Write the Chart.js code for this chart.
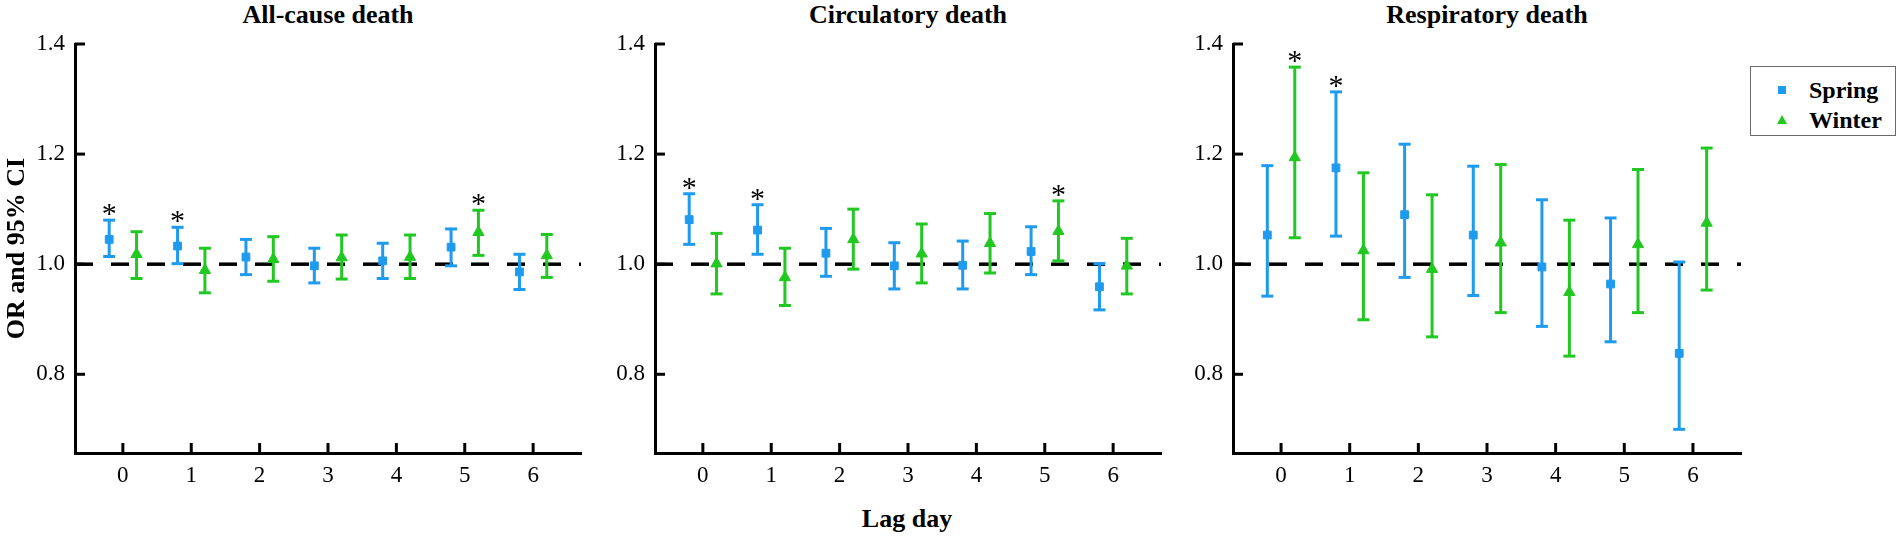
<!DOCTYPE html>
<html>
<head>
<meta charset="utf-8">
<script src="https://cdn.jsdelivr.net/npm/chart.js@4"></script>
<style>
body{margin:0;background:#fff;width:1902px;height:539px;overflow:hidden;position:relative;font-family:"Liberation Serif","Times New Roman",serif;color:#000;}
canvas{position:absolute;top:0;}
.ttl{position:absolute;top:0;width:400px;line-height:30px;font-size:26px;font-weight:bold;text-align:center;}
#legend{position:absolute;left:1750px;top:66px;width:144px;height:68px;border:1px solid #6a6a6a;}
#legend .row{position:absolute;left:0;width:144px;height:30px;line-height:30px;font-size:24px;font-weight:bold;}
#legend .txt{position:absolute;left:58px;top:0;}
#legend .sq{position:absolute;left:27px;top:11px;width:8px;height:8px;background:#1E9BEE;}
#legend .tri{position:absolute;left:26px;top:10px;width:0;height:0;border-left:5.5px solid transparent;border-right:5.5px solid transparent;border-bottom:9px solid #22C822;}
</style>
</head>
<body>

<div class="ttl" style="left:128px">All-cause death</div>
<div class="ttl" style="left:708px">Circulatory death</div>
<div class="ttl" style="left:1287px">Respiratory death</div>
<div class="ttl" style="left:707px;top:504px">Lag day</div>

<div id="legend">
  <div class="row" style="top:8px"><div class="sq"></div><span class="txt">Spring</span></div>
  <div class="row" style="top:38px"><div class="tri"></div><span class="txt">Winter</span></div>
</div>

<canvas id="c1" width="600" height="539" style="left:0px"></canvas>
<canvas id="c2" width="600" height="539" style="left:580px"></canvas>
<canvas id="c3" width="600" height="539" style="left:1158px"></canvas>

<script>
const lags = [0,1,2,3,4,5,6];
const yTicks = [0.8,1.0,1.2,1.4];

// All-cause death
const allSpring   = [1.045,1.033,1.013,0.997,1.006,1.031,0.986];
const allSpringLo = [1.014,1.001,0.981,0.966,0.974,0.997,0.954];
const allSpringHi = [1.080,1.067,1.045,1.029,1.038,1.064,1.018];
const allWinter   = [1.018,0.989,1.009,1.012,1.013,1.058,1.016];
const allWinterLo = [0.974,0.948,0.969,0.973,0.974,1.016,0.976];
const allWinterHi = [1.059,1.029,1.050,1.053,1.053,1.098,1.054];
const allSpringSig = [1,1,0,0,0,0,0];
const allWinterSig = [0,0,0,0,0,1,0];

// Circulatory death
const circSpring   = [1.081,1.062,1.020,0.997,0.998,1.023,0.959];
const circSpringLo = [1.036,1.018,0.978,0.955,0.955,0.981,0.917];
const circSpringHi = [1.128,1.108,1.065,1.039,1.042,1.068,1.001];
const circWinter   = [1.001,0.976,1.045,1.019,1.038,1.060,0.997];
const circWinterLo = [0.946,0.925,0.991,0.966,0.984,1.006,0.946];
const circWinterHi = [1.056,1.029,1.100,1.073,1.092,1.115,1.047];
const circSpringSig = [1,1,0,0,0,0,0];
const circWinterSig = [0,0,0,0,0,1,0];

// Respiratory death
const respSpring   = [1.053,1.175,1.090,1.053,0.995,0.964,0.838];
const respSpringLo = [0.942,1.051,0.976,0.943,0.887,0.859,0.700];
const respSpringHi = [1.179,1.313,1.218,1.178,1.117,1.084,1.004];
const respWinter   = [1.194,1.025,0.991,1.039,0.949,1.036,1.075];
const respWinterLo = [1.048,0.899,0.868,0.912,0.833,0.912,0.953];
const respWinterHi = [1.358,1.166,1.126,1.181,1.080,1.172,1.211];
const respSpringSig = [0,1,0,0,0,0,0];
const respWinterSig = [1,0,0,0,0,0,0];

const springColor = '#1E9BEE';
const winterColor = '#22C822';
const serif = '"Liberation Serif","Times New Roman",serif';

// inside tick marks + significance asterisks
const extras = {
  id:'extras',
  afterDraw(chart){
    const {ctx, chartArea, scales:{x,y}} = chart;
    ctx.save();
    ctx.strokeStyle='#000';
    ctx.lineWidth=3;
    x.ticks.forEach((t,i)=>{
      const px=x.getPixelForTick(i);
      ctx.beginPath();ctx.moveTo(px,chartArea.bottom);ctx.lineTo(px,chartArea.bottom-10);ctx.stroke();
    });
    y.ticks.forEach((t,i)=>{
      const py=y.getPixelForTick(i);
      ctx.beginPath();ctx.moveTo(chartArea.left,py);ctx.lineTo(chartArea.left+10,py);ctx.stroke();
    });
    ctx.fillStyle='#000';
    ctx.font='30px '+serif;
    ctx.textAlign='center';
    ctx.textBaseline='alphabetic';
    chart.data.datasets.forEach((ds,i)=>{
      if(!ds.isStar) return;
      chart.getDatasetMeta(i).data.forEach(el=>{
        ctx.fillText('*',el.x,el.y+3);
      });
    });
    ctx.restore();
  }
};

function seriesSets(offset, est, lo, hi, sig, color, style, radius){
  const bars=[], caps=[], pts=[], stars=[];
  lags.forEach((l,i)=>{
    const xv=l+offset;
    bars.push({x:xv,y:lo[i]},{x:xv,y:hi[i]},{x:xv,y:null});
    caps.push({x:xv,y:lo[i]},{x:xv,y:hi[i]});
    pts.push({x:xv,y:est[i]});
    if(sig[i]) stars.push({x:xv,y:hi[i]});
  });
  return [
    {data:bars,showLine:true,spanGaps:false,borderColor:color,borderWidth:3,pointRadius:0,order:3},
    {data:caps,pointStyle:'line',radius:6,borderColor:color,borderWidth:3,order:2},
    {data:pts,pointStyle:style,radius:radius,backgroundColor:color,borderColor:color,borderWidth:1,order:1},
    {data:stars,pointRadius:0,isStar:true,order:0}
  ];
}

function makePanel(id, s, sLo, sHi, sSig, w, wLo, wHi, wSig, yTitle, padRight){
  const datasets=[
    {data:[{x:-0.7,y:1},{x:6.7,y:1}],showLine:true,borderColor:'#000',borderWidth:3.5,borderDash:[18,18],pointRadius:0,order:10},
    ...seriesSets(-0.2,s,sLo,sHi,sSig,springColor,'rect',5.5),
    ...seriesSets(0.2,w,wLo,wHi,wSig,winterColor,'triangle',6.5)
  ];
  return new Chart(document.getElementById(id),{
    type:'scatter',
    data:{datasets:datasets},
    options:{
      responsive:false,
      animation:false,
      layout:{padding:{top:44,right:padRight,left:0,bottom:0}},
      plugins:{legend:{display:false},tooltip:{enabled:false}},
      scales:{
        x:{
          type:'linear',min:-0.7,max:6.7,
          afterBuildTicks:sc=>{sc.ticks=lags.map(v=>({value:v}));},
          afterFit:sc=>{sc.height=86;},
          grid:{display:false,drawTicks:false},
          border:{display:true,color:'#000',width:3},
          ticks:{padding:9,color:'#000',font:{family:serif,size:23},callback:v=>String(v)}
        },
        y:{
          min:0.657,max:1.4,
          afterBuildTicks:sc=>{sc.ticks=yTicks.map(v=>({value:v}));},
          afterFit:sc=>{sc.width=75;},
          grid:{display:false,drawTicks:false},
          border:{display:true,color:'#000',width:3},
          ticks:{padding:10,color:'#000',font:{family:serif,size:23},callback:v=>Number(v).toFixed(1)},
          title:{display:yTitle,text:'OR and 95% CI',color:'#000',font:{family:serif,size:26,weight:'bold'},padding:{top:2,bottom:0}}
        }
      }
    },
    plugins:[extras]
  });
}

makePanel('c1',allSpring,allSpringLo,allSpringHi,allSpringSig,allWinter,allWinterLo,allWinterHi,allWinterSig,true,19);
makePanel('c2',circSpring,circSpringLo,circSpringHi,circSpringSig,circWinter,circWinterLo,circWinterHi,circWinterSig,false,19);
makePanel('c3',respSpring,respSpringLo,respSpringHi,respSpringSig,respWinter,respWinterLo,respWinterHi,respWinterSig,false,17);
</script>
</body>
</html>
